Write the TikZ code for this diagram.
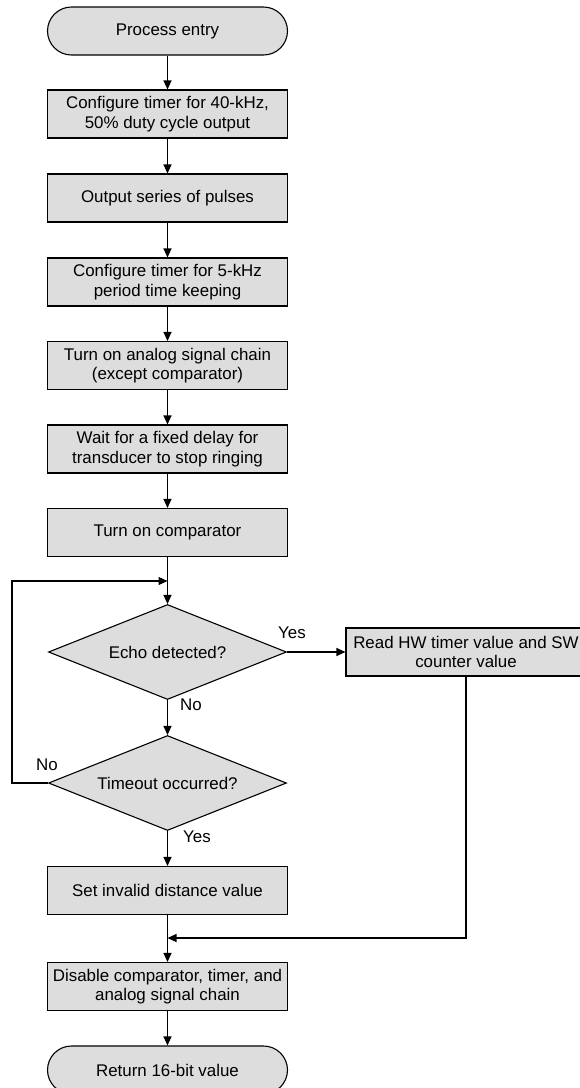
\documentclass[tikz,border=0pt]{standalone}
\usepackage{fontspec}
\setmainfont{Liberation Sans}
\usepackage{tikz}
\usetikzlibrary{arrows.meta, shapes.geometric}
\definecolor{boxgray}{RGB}{221,221,221}
\tikzset{block/.style = {shape = rectangle, draw, fill = boxgray, line width = 1.1pt, minimum width = 240pt, minimum height = 48pt, inner sep = 0pt, align = center, font = \fontsize{16.9pt}{19.3pt}\selectfont}}
\tikzset{terminal/.style = {block, rounded corners = 24pt}}
\tikzset{decision/.style = {block, shape = diamond, shape aspect = 2.5, minimum width = 238pt, minimum height = 95pt}}
\tikzset{edge/.style = {line width = 1.1pt, -{Triangle[length = 9pt, width = 8pt]}}}
\tikzset{tag/.style = {inner sep = 0pt, font = \fontsize{16.9pt}{19.3pt}\selectfont}}

\begin{document}
\begin{tikzpicture}[x = 1pt, y = 1pt]
				\useasboundingbox (0, 0) rectangle (580, -1088);

				\node[terminal] (start) at (167.5, -31) {Process entry};
				\node[block] (cfgpwm) at (167.5, -114) {Configure timer for 40-kHz,\\50\% duty cycle output};
				\node[block] (pulses) at (167.5, -198) {Output series of pulses};
				\node[block] (cfgtimer) at (167.5, -282) {Configure timer for 5-kHz\\period time keeping};
				\node[block] (analog) at (167.5, -365.5) {Turn on analog signal chain\\(except comparator)};
				\node[block] (wait) at (167.5, -449) {Wait for a fixed delay for\\transducer to stop ringing};
				\node[block] (comp) at (167.5, -532.5) {Turn on comparator};
				\node[decision] (echo) at (167.5, -652) {Echo detected?};
				\node[decision] (timeout) at (167.5, -783) {Timeout occurred?};
				\node[block] (readhw) at (466, -652) {Read HW timer value and SW\\counter value};
				\node[block] (invalid) at (167.5, -890.5) {Set invalid distance value};
				\node[block] (disable) at (167.5, -986.5) {Disable comparator, timer, and\\analog signal chain};
				\node[terminal] (finish) at (167.5, -1070) {Return 16-bit value};

				\coordinate (merge) at (167.5, -581);
				\coordinate (join) at (167.5, -938);

				\node[tag] (yesecho) at (292, -633) {Yes};
				\node[tag] (noecho) at (191, -705) {No};
				\node[tag] (notime) at (47, -765) {No};
				\node[tag] (yestime) at (197, -837) {Yes};

				\draw[edge] (start) to (cfgpwm);
				\draw[edge] (cfgpwm) to (pulses);
				\draw[edge] (pulses) to (cfgtimer);
				\draw[edge] (cfgtimer) to (analog);
				\draw[edge] (analog) to (wait);
				\draw[edge] (wait) to (comp);
				\draw[edge] (comp) to (echo);
				\draw[edge] (echo) to (readhw);
				\draw[edge] (echo) to (timeout);
				\draw[edge] (timeout.west) -- (12, -783) |- (merge);
				\draw[edge] (timeout) to (invalid);
				\draw[edge] (readhw.south) |- (join);
				\draw[edge] (invalid) to (disable);
				\draw[edge] (disable) to (finish);
			\end{tikzpicture}
\end{document}
